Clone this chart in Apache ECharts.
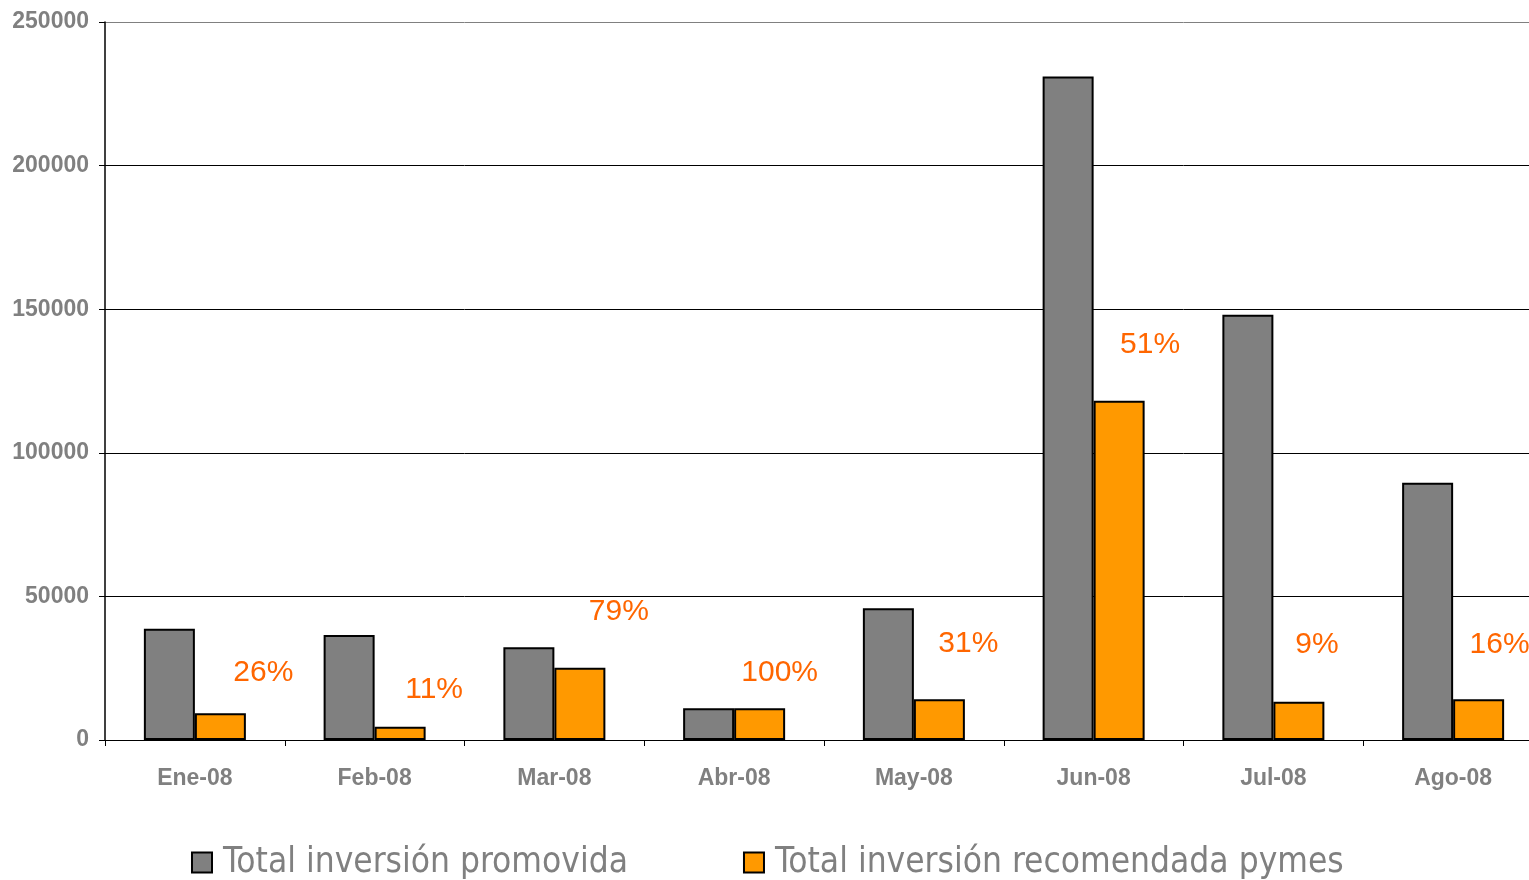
<!DOCTYPE html>
<html>
<head>
<meta charset="utf-8">
<script src="https://cdn.jsdelivr.net/npm/echarts@6/dist/echarts.min.js"></script>
<style>
html,body{margin:0;padding:0;background:#fff;overflow:hidden;width:1529px;height:880px;}
#chart{width:1545px;height:880px;}
</style>
</head>
<body>
<div id="chart"></div>
<script>
const categories = ['Ene-08','Feb-08','Mar-08','Abr-08','May-08','Jun-08','Jul-08','Ago-08'];
const promovida = [38700, 36600, 32300, 11050, 45900, 231000, 148100, 89600];
const recomendada = [9300, 4600, 25200, 11050, 14200, 118150, 13350, 14200];
const percentLabels = ['26%','11%','79%','100%','31%','51%','9%','16%'];
const yTicks = [0, 50000, 100000, 150000, 200000, 250000];
// label offsets (style only)
const labelOffsets = [[43,-26],[34,-22],[39,-41],[20,-21],[29,-40],[31,-41],[18,-42],[21,-39]];

const chart = echarts.init(document.getElementById('chart'));
const axisFont = {fontFamily:'"Liberation Sans", Arial, sans-serif', fontWeight:'bold', fontSize:23, color:'#808080'};
chart.setOption({
  animation:false,
  grid:{left:105, right:2, top:22, bottom:140, containLabel:false},
  legend:{
    bottom:-5, left:186, width:1400,
    itemWidth:20, itemHeight:20, itemGap:115,
    icon:'rect',
    itemStyle:{borderColor:'#000', borderWidth:2},
    textStyle:{fontFamily:'"Liberation Sans Narrow", "Arial Narrow", "DejaVu Sans Condensed", sans-serif', fontSize:35, color:'#808080', padding:[0,0,0,6]},
    data:['Total inversión promovida','Total inversión recomendada pymes']
  },
  xAxis:{
    type:'category', data:categories,
    axisLine:{lineStyle:{color:'#000', width:1}},
    axisTick:{show:true, alignWithLabel:false, length:6, lineStyle:{color:'#000'}},
    axisLabel:Object.assign({margin:27}, axisFont),
    splitLine:{show:false}
  },
  yAxis:{
    type:'value', min:yTicks[0], max:yTicks[yTicks.length-1], interval:50000,
    axisLine:{show:true, lineStyle:{color:'#000', width:1.5}},
    axisTick:{show:true, length:6, lineStyle:{color:'#000'}},
    axisLabel:Object.assign({margin:16, formatter:(v)=>String(v)}, axisFont),
    splitLine:{show:true, lineStyle:{color:['#000','#000','#000','#000','#000','#808080'], width:1}}
  },
  series:[
    {
      name:'Total inversión promovida', type:'bar', data:promovida,
      barWidth:51, barGap:'0%',
      itemStyle:{color:'#808080', borderColor:'#000', borderWidth:2}
    },
    {
      name:'Total inversión recomendada pymes', type:'bar',
      data:recomendada.map((v,i)=>({
        value:v,
        label:{show:true, position:'top', distance:0, offset:labelOffsets[i], formatter:percentLabels[i]}
      })),
      barWidth:51, barGap:'0%',
      itemStyle:{color:'#FF9900', borderColor:'#000', borderWidth:2},
      label:{fontFamily:'"Liberation Sans", Arial, sans-serif', fontSize:30, lineHeight:30, color:'#FF6600'}
    }
  ]
});
</script>
</body>
</html>
